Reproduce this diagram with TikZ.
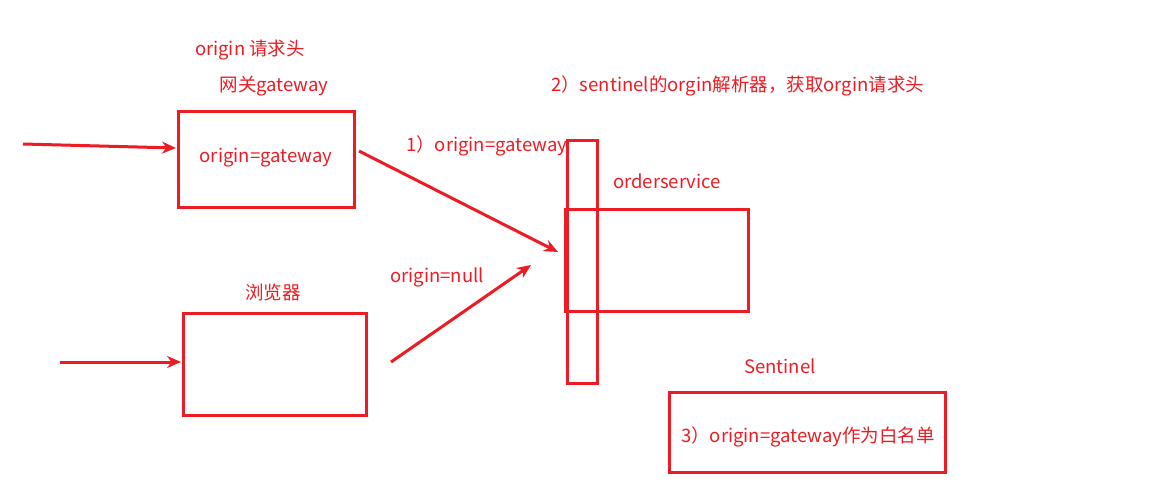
\documentclass[tikz,border=0pt]{standalone}
\usepackage{fontspec}
\setmainfont{Noto Sans CJK SC}
\usetikzlibrary{arrows.meta}
\definecolor{pred}{HTML}{ED1C24}
\begin{document}
\begin{tikzpicture}[x=1pt,y=-1pt,
  box/.style={draw=pred,line width=3pt},
  lbl/.style={text=pred,font=\fontsize{18.5}{20}\selectfont,inner sep=0pt},
  arr/.style={draw=pred,line width=3pt,-{Stealth[length=14pt,width=12pt]}}]
\useasboundingbox (0,0) rectangle (1174,495);
% boxes
\draw[box] (178,111) rectangle (354,207);
\draw[box] (183,313) rectangle (366,415);
\draw[box] (567,140) rectangle (597,383);
\draw[box] (565,209) rectangle (748,311);
\draw[pred,line width=4.5pt] (566,209) -- (566,311);
\draw[box] (669,392) rectangle (945,472);
% labels
\node[lbl] (t1) at (250,50) {origin 请求头};
\node[lbl] (t2) at (274,86) {网关gateway};
\node[lbl] (gw) at (266,158) {origin=gateway};
\node[lbl] (t3) at (273,292) {浏览器};
\node[lbl,anchor=west] (l1) at (406,146) {1）origin=gateway};
\node[lbl] (l2) at (437,277) {origin=null};
\node[lbl,anchor=west] (l3) at (551,86) {2）sentinel的orgin解析器，获取orgin请求头};
\node[lbl] (os) at (667,181) {orderservice};
\node[lbl] (sn) at (780,366) {Sentinel};
\node[lbl] (wl) at (808,437) {3）origin=gateway作为白名单};
% arrows
\coordinate (a1) at (23,144);
\coordinate (a1e) at (176,148);
\draw[arr] (a1) -- (a1e);
\coordinate (a2) at (60,362);
\coordinate (a2e) at (181,362);
\draw[arr] (a2) -- (a2e);
\coordinate (a3) at (359,151);
\coordinate (a3e) at (558,252);
\draw[arr] (a3) -- (a3e);
\coordinate (a4) at (391,362);
\coordinate (a4e) at (531,265);
\draw[arr] (a4) -- (a4e);
\end{tikzpicture}
\end{document}
